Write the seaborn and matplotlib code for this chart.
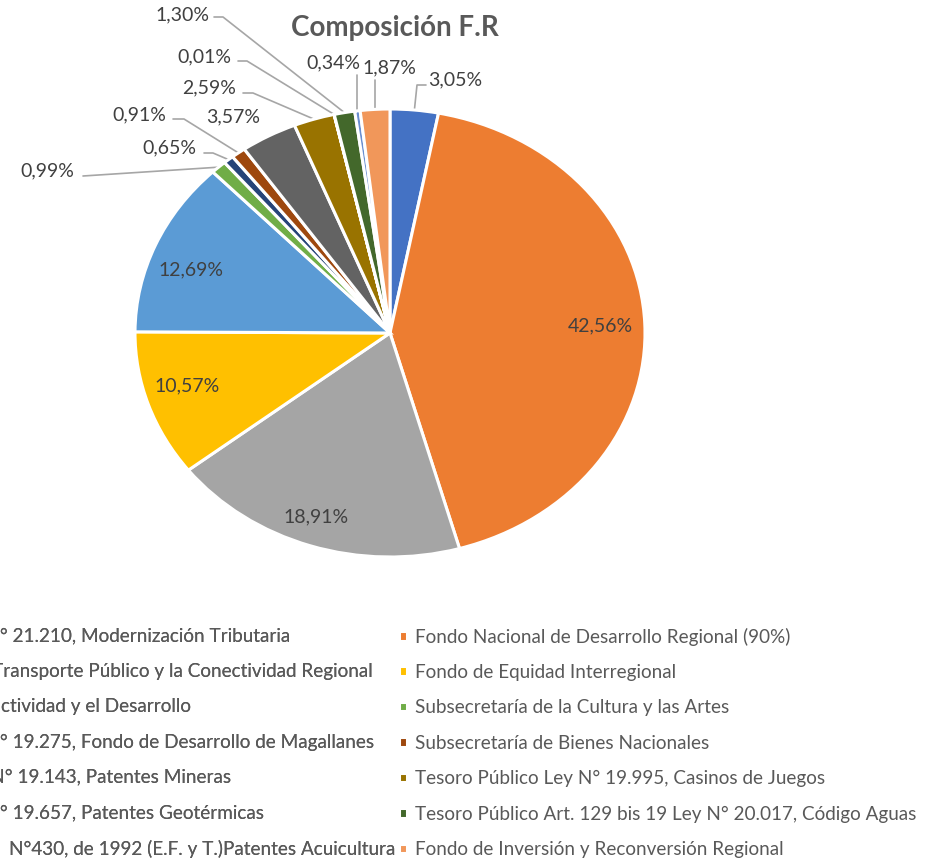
import numpy as np
import matplotlib
matplotlib.use("Agg")
import matplotlib.pyplot as plt
import seaborn as sns

# data (legend order = slice order, clockwise from 12 o'clock)
categorias = [
    "Ley N° 21.210, Modernización Tributaria",
    "Fondo Nacional de Desarrollo Regional (90%)",
    "Fdo. Transporte Público y la Conectividad Regional",
    "Fondo de Equidad Interregional",
    "Productividad y el Desarrollo",
    "Subsecretaría de la Cultura y las Artes",
    "Ley N° 19.275, Fondo de Desarrollo de Magallanes",
    "Subsecretaría de Bienes Nacionales",
    "Ley  N° 19.143, Patentes Mineras",
    "Tesoro Público Ley N° 19.995, Casinos de Juegos",
    "Ley N° 19.657, Patentes Geotérmicas",
    "Tesoro Público Art. 129 bis 19 Ley N° 20.017, Código Aguas",
    "D.F.L.  N°430, de 1992 (E.F. y T.)Patentes Acuicultura",
    "Fondo de Inversión y Reconversión Regional",
]
porcentajes = [3.05, 42.56, 18.91, 10.57, 12.69, 0.99, 0.65, 0.91, 3.57, 2.59, 0.01, 1.30, 0.34, 1.87]
colores = ["#4472C4", "#ED7D31", "#A5A5A5", "#FFC000", "#5B9BD5", "#70AD47", "#264478",
           "#9E480E", "#636363", "#997300", "#255E91", "#43682B", "#698ED0", "#F1975A"]

sns.set_style("white")
plt.rcParams['font.family'] = ['Lato', 'DejaVu Sans']

W, H = 928, 860
CX, CY, RX, RY = 390, 333, 255, 224   # pie centre / radii in pixels

fig = plt.figure(figsize=(W / 100, H / 100), dpi=100)
ax = fig.add_axes([(CX - RX) / W, 1 - (CY + RY) / H, 2 * RX / W, 2 * RY / H])

wedges, _ = ax.pie(porcentajes, colors=colores, startangle=90, counterclock=False,
                   wedgeprops=dict(edgecolor="white", linewidth=2.2))
ax.set_aspect("auto")
ax.set_xlim(-1, 1)
ax.set_ylim(-1, 1)
ax.axis("off")


def px(p):
    return ((p[0] - CX) / RX, (CY - p[1]) / RY)


def edge_point(w):
    a = np.deg2rad((w.theta1 + w.theta2) / 2)
    return np.cos(a), np.sin(a)


def fmt(v):
    return f"{v:.2f}".replace(".", ",") + "%"


lab_kw = dict(fontsize=14, color="#404040", ha="center", va="center", clip_on=False)

# labels inside the big slices
inside = {1: (600, 326), 2: (316, 517), 3: (187, 386), 4: (191, 270)}
for i, p in inside.items():
    ax.text(*px(p), fmt(porcentajes[i]), **lab_kw)

# labels outside with leader lines
outside = {
    0: ((455, 80), [(426, 85), (417, 85)]),
    13: ((389, 68), "v"),
    12: ((333, 63), "v"),
    11: ((182, 15), [(214, 17), (223, 17)]),
    10: ((204, 57), [(238, 61), (247, 61)]),
    9: ((209, 88), [(243, 93), (253, 93)]),
    8: ((233, 117), None),
    7: ((139, 115), [(173, 119), (184, 119)]),
    6: ((169, 148), [(204, 153), (213, 153)]),
    5: ((47, 171), [(83, 176)]),
}
for i, (tp, pts) in outside.items():
    ax.text(*px(tp), fmt(porcentajes[i]), **lab_kw)
    ex, ey = edge_point(wedges[i])
    if pts is None:
        continue
    if pts == "v":
        xs = [ex, ex]
        ys = [px((0, tp[1] + 12))[1], ey]
    else:
        dp = [px(p) for p in pts]
        xs = [d[0] for d in dp] + [ex]
        ys = [d[1] for d in dp] + [ey]
    ax.plot(xs, ys, color="#A6A6A6", lw=1.2, clip_on=False, zorder=0)

fig.text(395 / W, 1 - 28 / H, "Composición F.R", ha="center", va="center",
         fontsize=20, fontweight="bold", color="#595959")

# legend: two columns, left one runs off the figure edge
fs = 13.6
hl, tp_ = 0.4, 0.47
leg_kw = dict(frameon=False, fontsize=fs, labelcolor="#595959", handlelength=hl,
              handleheight=hl, handletextpad=tp_, labelspacing=0.975, borderpad=0,
              borderaxespad=0, loc="upper left")
top = 1 - 627.5 / H
shift = (hl + tp_) * fs * 100 / 72
left = list(range(0, 14, 2))
right = list(range(1, 14, 2))
l1 = fig.legend([wedges[i] for i in left], [categorias[i] for i in left],
                bbox_to_anchor=((-49 - shift) / W, top), **leg_kw)
fig.add_artist(l1)
fig.legend([wedges[i] for i in right], [categorias[i] for i in right],
           bbox_to_anchor=(399 / W, top), **leg_kw)

fig.savefig("out.png", dpi=100, facecolor="white")
